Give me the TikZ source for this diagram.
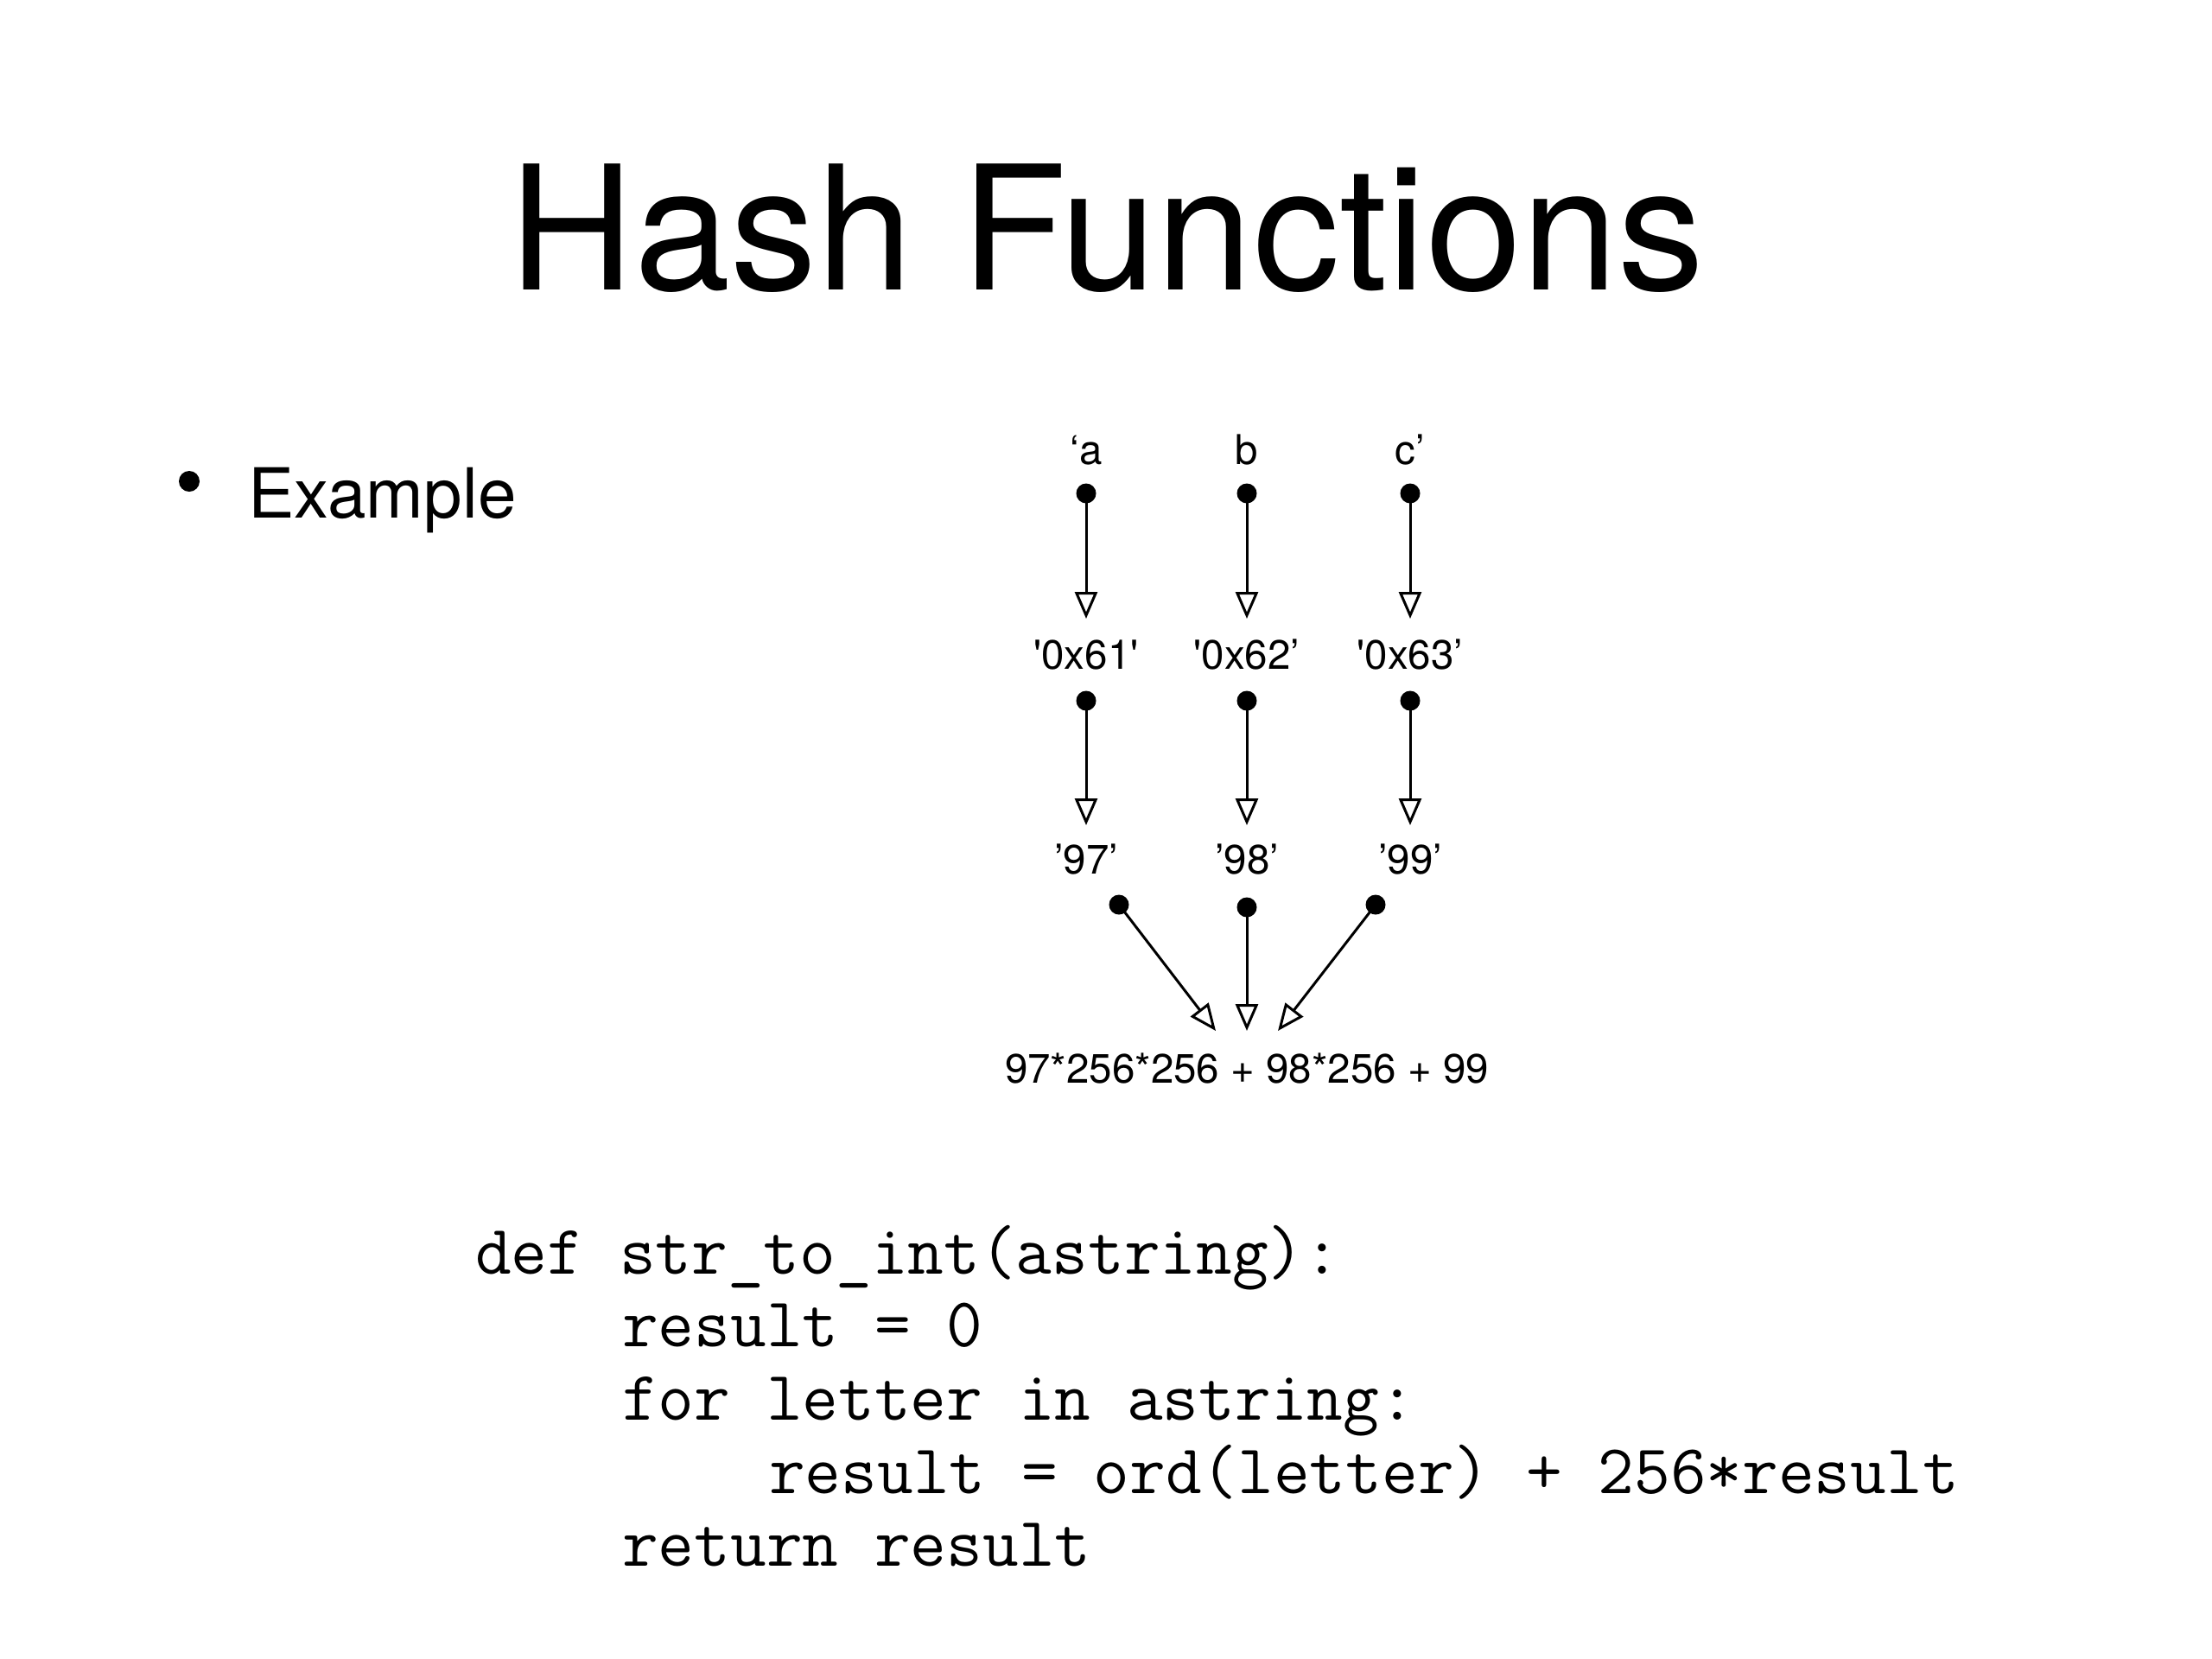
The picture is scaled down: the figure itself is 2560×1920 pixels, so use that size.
\documentclass[tikz,border=0pt]{standalone}
\usepackage{fontspec}
\setmainfont{TeX Gyre Heros}
\usetikzlibrary{arrows.meta}
\tikzset{
  lbl/.style={font=\fontsize{47.5pt}{56pt}\selectfont, anchor=base, inner sep=0pt},
  dotnode/.style={circle, fill=black, inner sep=0pt, minimum size=23pt},
  arr/.style={line width=3pt, -{Triangle[open, length=31pt, width=26pt, line width=3pt]}},
  codeline/.style={font=\ttfamily\fontsize{81pt}{92pt}\selectfont, anchor=base west, inner sep=0pt},
}
\begin{document}
\begin{tikzpicture}[x=1pt, y=-1pt]
\useasboundingbox[fill=white] (0,0) rectangle (2560,1920);
% title and bullet
\node[font=\fontsize{200pt}{240pt}\selectfont, anchor=base, inner sep=0pt] (title) at (1281,335) {Hash Functions};
\node[circle, fill=black, inner sep=0pt, minimum size=24pt] (bullet) at (219,557) {};
\node[font=\fontsize{80pt}{96pt}\selectfont, anchor=base west, inner sep=0pt] (example) at (287,599) {Example};
% row 1
\node[lbl] (la) at (1257,537) {‘a};
\node[lbl] (lb) at (1443,537) {b};
\node[lbl] (lc) at (1632,537) {c’};
\node[dotnode] (da) at (1257,571) {};
\node[dotnode] (db) at (1443,571) {};
\node[dotnode] (dc) at (1632,571) {};
\coordinate (ta) at (1257,716);
\coordinate (tb) at (1443,716);
\coordinate (tc) at (1632,716);
\draw[arr] (da.center) -- (ta);
\draw[arr] (db.center) -- (tb);
\draw[arr] (dc.center) -- (tc);
% row 2
\node[lbl] (ha) at (1257,774) {\textquotesingle 0x61\textquotesingle};
\node[lbl] (hb) at (1443,774) {\textquotesingle 0x62’};
\node[lbl] (hc) at (1632,774) {\textquotesingle 0x63’};
\node[dotnode] (ea) at (1257,811) {};
\node[dotnode] (eb) at (1443,811) {};
\node[dotnode] (ec) at (1632,811) {};
\coordinate (ua) at (1257,955);
\coordinate (ub) at (1443,955);
\coordinate (uc) at (1632,955);
\draw[arr] (ea.center) -- (ua);
\draw[arr] (eb.center) -- (ub);
\draw[arr] (ec.center) -- (uc);
% row 3
\node[lbl] (na) at (1257,1011) {’97’};
\node[lbl] (nb) at (1443,1011) {’98’};
\node[lbl] (nc) at (1632,1011) {’99’};
\node[dotnode] (fa) at (1295,1047) {};
\node[dotnode] (fb) at (1443,1050) {};
\node[dotnode] (fc) at (1592,1047) {};
\coordinate (va) at (1407,1193);
\coordinate (vb) at (1443,1193);
\coordinate (vc) at (1479,1193);
\draw[arr] (fa.center) -- (va);
\draw[arr] (fb.center) -- (vb);
\draw[arr] (fc.center) -- (vc);
\node[lbl] (sum) at (1443,1253) {97*256*256 + 98*256 + 99};
% code
\node[codeline] (c1) at (550,1474) {def str\_to\_int(astring):};
\node[codeline] (c2) at (720,1558) {result = 0};
\node[codeline] (c3) at (720,1643) {for letter in astring:};
\node[codeline] (c4) at (890,1728) {result = ord(letter) + 256*result};
\node[codeline] (c5) at (720,1812) {return result};
\end{tikzpicture}
\end{document}
